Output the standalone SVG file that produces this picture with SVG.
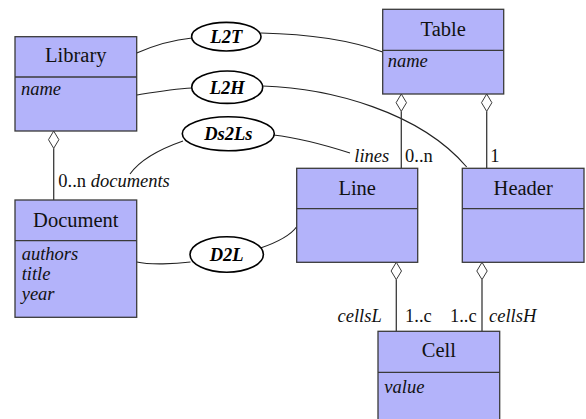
<svg xmlns="http://www.w3.org/2000/svg" width="586" height="419" viewBox="0 0 586 419">
<style>
text{font-family:"Times New Roman","Liberation Serif",Times,serif;fill:#111}
.box{fill:#b3b3fa;stroke:#3a3a3a;stroke-width:1.3}
.div{stroke:#3a3a3a;stroke-width:1.3}
.title{font-size:20.5px;text-anchor:middle}
.attr{font-size:18.5px;font-style:italic}
.lab{font-size:18.5px}
.it{font-style:italic}
.ell{fill:#fff;stroke:#000;stroke-width:1.6}
.elab{font-size:18.5px;font-style:italic;font-weight:bold;fill:#000;text-anchor:middle}
.con{fill:none;stroke:#222;stroke-width:1.1}
.agg{fill:none;stroke:#3a3a3a;stroke-width:1.3}
.dia{fill:#fff;stroke:#3a3a3a;stroke-width:1}
</style>
<g id="connectors">
<path class="con" d="M136.7 53 C155 45 172 40 192 38"/>
<path class="con" d="M261 33 C310 34 350 40 382.7 52"/>
<path class="con" d="M136.7 95 C155 92 172 89 192 88"/>
<path class="con" d="M262.7 86 C330 88 420 112 466.7 167"/>
<path class="con" d="M183 141 C160 149 140 160 130 174"/>
<path class="con" d="M273.5 135 C300 138 325 145 350 153"/>
<path class="con" d="M136.7 262 C150 265 175 264 190.5 262"/>
<path class="con" d="M260.5 248 C275 243 290 236 296.7 226.7"/>
<line class="agg" x1="53.7" y1="148.3" x2="53.7" y2="200"/>
<polygon class="dia" points="53.7,131 58.9,139.7 53.7,148.3 48.5,139.7"/>
<line class="agg" x1="401.3" y1="111.3" x2="401.3" y2="168.3"/>
<polygon class="dia" points="401.3,94 406.5,102.7 401.3,111.3 396.1,102.7"/>
<line class="agg" x1="486.7" y1="111.3" x2="486.7" y2="168.3"/>
<polygon class="dia" points="486.7,94 491.9,102.7 486.7,111.3 481.5,102.7"/>
<line class="agg" x1="396.3" y1="279.6" x2="396.3" y2="331.3"/>
<polygon class="dia" points="396.3,262.3 401.5,271 396.3,279.6 391.1,271"/>
<line class="agg" x1="482" y1="279.6" x2="482" y2="331.3"/>
<polygon class="dia" points="482,262.3 487.2,271 482,279.6 476.8,271"/>
<text class="lab" x="58.3" y="187.3">0..n <tspan class="it">documents</tspan></text>
<text class="lab it" x="389.3" y="162.3" text-anchor="end">lines</text>
<text class="lab" x="405" y="162.3">0..n</text>
<text class="lab" x="490.3" y="162.3">1</text>
<text class="lab it" x="381.7" y="322.3" text-anchor="end">cellsL</text>
<text class="lab" x="405" y="322.3">1..c</text>
<text class="lab" x="476.7" y="322.3" text-anchor="end">1..c</text>
<text class="lab it" x="489" y="322.3">cellsH</text>
</g>
<g id="L2T"><ellipse class="ell" cx="226.3" cy="36.7" rx="34.7" ry="14.3"/><text class="elab" x="226.3" y="43">L2T</text></g>
<g id="L2H"><ellipse class="ell" cx="227.2" cy="87.2" rx="35.5" ry="16.2"/><text class="elab" x="227.2" y="93.5">L2H</text></g>
<g id="Ds2Ls"><ellipse class="ell" cx="228.3" cy="133.7" rx="46" ry="17"/><text class="elab" x="228.3" y="140">Ds2Ls</text></g>
<g id="D2L"><ellipse class="ell" cx="226.7" cy="254.5" rx="36.7" ry="17.8"/><text class="elab" x="226.7" y="260.8">D2L</text></g>
<g id="Library">
<rect class="box" x="15" y="36.7" width="121.7" height="94.3"/>
<line class="div" x1="15" y1="77" x2="136.7" y2="77"/>
<text class="title" x="75.8" y="61.7">Library</text>
<text class="attr" x="21" y="95">name</text>
</g>
<g id="Table">
<rect class="box" x="382.7" y="9.3" width="121" height="84.7"/>
<line class="div" x1="382.7" y1="50.3" x2="503.7" y2="50.3"/>
<text class="title" x="443.2" y="36">Table</text>
<text class="attr" x="387.7" y="66.7">name</text>
</g>
<g id="Line">
<rect class="box" x="296.7" y="168.3" width="121" height="94"/>
<line class="div" x1="296.7" y1="208.7" x2="417.7" y2="208.7"/>
<text class="title" x="357.2" y="195">Line</text>
</g>
<g id="Header">
<rect class="box" x="462.3" y="168.3" width="121.7" height="94"/>
<line class="div" x1="462.3" y1="208.7" x2="584" y2="208.7"/>
<text class="title" x="523.2" y="195">Header</text>
</g>
<g id="Document">
<rect class="box" x="15" y="200" width="121.7" height="117.3"/>
<line class="div" x1="15" y1="240.7" x2="136.7" y2="240.7"/>
<text class="title" x="75.8" y="226.7">Document</text>
<text class="attr" x="21.7" y="260">authors</text>
<text class="attr" x="21.7" y="280">title</text>
<text class="attr" x="21.7" y="300">year</text>
</g>
<g id="Cell">
<rect class="box" x="378" y="331.3" width="121.7" height="100"/>
<line class="div" x1="378" y1="372.3" x2="499.7" y2="372.3"/>
<text class="title" x="438.8" y="356.7">Cell</text>
<text class="attr" x="384.3" y="392.7">value</text>
</g>
</svg>
